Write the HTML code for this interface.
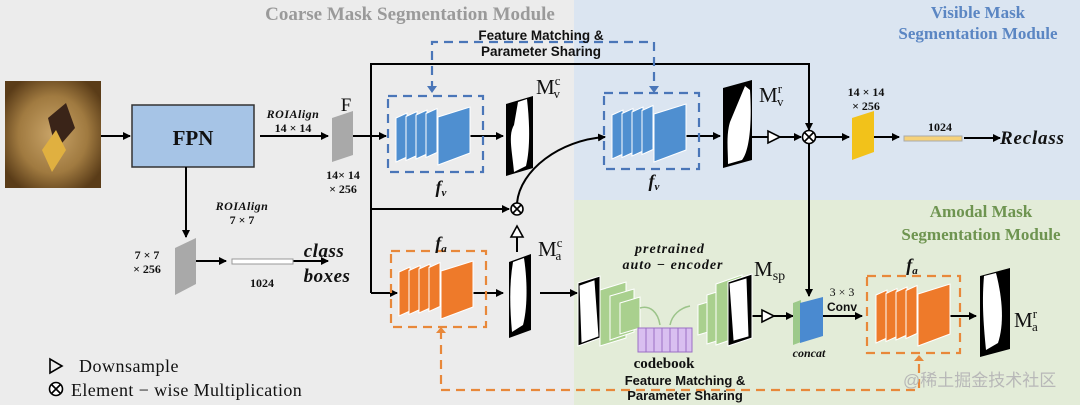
<!DOCTYPE html>
<html><head><meta charset="utf-8"><style>
html,body{margin:0;padding:0;background:#ececec;}
svg{display:block;font-family:"Liberation Serif",serif;}
.b{font-weight:bold}
.s{font-family:"Liberation Sans",sans-serif;font-weight:bold}
</style></head><body>
<svg id="s" width="1080" height="405" viewBox="0 0 1080 405" xmlns="http://www.w3.org/2000/svg">
<defs>
<marker id="a" markerWidth="8" markerHeight="8" refX="7" refY="4" orient="auto" markerUnits="userSpaceOnUse"><path d="M0,0 L8,4 L0,8 z" fill="#000"/></marker>
<radialGradient id="ph" cx="50%" cy="50%" r="60%"><stop offset="0" stop-color="#c9a468"/><stop offset="0.6" stop-color="#a07a40"/><stop offset="1" stop-color="#5a3c18"/></radialGradient>
</defs>
<rect x="574" y="0" width="506" height="200" fill="#dbe5f1"/>
<rect x="574" y="200" width="506" height="205" fill="#e3ecd8"/>

<text x="410" y="20" font-size="19" fill="#9a9a9a" class="b" text-anchor="middle">Coarse Mask Segmentation Module</text>
<text x="978" y="18" font-size="17" fill="#5b86c3" class="b" text-anchor="middle">Visible Mask</text>
<text x="978" y="39" font-size="17" fill="#5b86c3" class="b" text-anchor="middle">Segmentation Module</text>
<text x="981" y="217" font-size="17" fill="#6e9450" class="b" text-anchor="middle">Amodal Mask</text>
<text x="981" y="240" font-size="17" fill="#6e9450" class="b" text-anchor="middle">Segmentation Module</text>

<rect x="5" y="81" width="96" height="107" fill="url(#ph)"/>
<polygon points="48,118 66,103 75,128 56,150" fill="#3a2418"/>
<polygon points="42,150 56,130 66,150 52,172" fill="#e0b040"/>
<rect x="132" y="105" width="122" height="62" fill="#a6c4e6" stroke="#333" stroke-width="1.5"/>
<text x="193" y="145" font-size="21" class="b" text-anchor="middle" fill="#111">FPN</text>
<g stroke="#000" stroke-width="2" fill="none">
<line x1="101" y1="136" x2="130" y2="136" marker-end="url(#a)"/>
<line x1="260" y1="136" x2="328" y2="136" marker-end="url(#a)"/>
<line x1="186" y1="167" x2="186" y2="237" marker-end="url(#a)"/>
<line x1="196" y1="261" x2="226" y2="261" marker-end="url(#a)"/>
<line x1="293" y1="261" x2="328" y2="261" marker-end="url(#a)"/>
<line x1="343" y1="136" x2="386" y2="136" marker-end="url(#a)"/>
<polyline points="371,293 371,64 809,64 809,130"/>
<line x1="809" y1="64" x2="809" y2="130" marker-end="url(#a)"/>
<line x1="809" y1="144" x2="809" y2="296" marker-end="url(#a)"/>
<line x1="371" y1="209" x2="509" y2="209" marker-end="url(#a)"/>
<line x1="371" y1="293" x2="397" y2="293" marker-end="url(#a)"/>
<line x1="468" y1="136" x2="503" y2="136" marker-end="url(#a)"/>
<line x1="468" y1="293" x2="503" y2="293" marker-end="url(#a)"/>
<line x1="517" y1="252" x2="517" y2="237"/>
<path d="M517,203 C520,170 560,140 605,137" marker-end="url(#a)"/>
<line x1="540" y1="293" x2="577" y2="293" marker-end="url(#a)"/>
<line x1="680" y1="136" x2="720" y2="136" marker-end="url(#a)"/>
<line x1="752" y1="137" x2="768" y2="137"/>
<line x1="780" y1="137" x2="801" y2="137" marker-end="url(#a)"/>
<line x1="816" y1="137" x2="849" y2="137" marker-end="url(#a)"/>
<line x1="864" y1="137" x2="899" y2="137" marker-end="url(#a)"/>
<line x1="964" y1="138" x2="1000" y2="138" marker-end="url(#a)"/>
<line x1="752" y1="316" x2="762" y2="316"/>
<line x1="774" y1="316" x2="793" y2="316" marker-end="url(#a)"/>
<line x1="823" y1="316" x2="862" y2="316" marker-end="url(#a)"/>
<line x1="940" y1="316" x2="976" y2="316" marker-end="url(#a)"/>
</g>
<polygon points="332,118 353,111 353,155 332,162" fill="#a9a9a9"/>
<polygon points="175,248 196,238 196,284 175,295" fill="#a9a9a9"/>
<polygon points="852,118 874,111 874,152 852,160" fill="#f2c21a"/>
<rect x="232" y="259" width="61" height="5" fill="#fff" stroke="#999" stroke-width="1"/>
<rect x="904" y="136" width="58" height="5" fill="#f6d27a" stroke="#aaa" stroke-width="1"/>

<g fill="none" stroke-width="2.2" stroke-dasharray="9,6">
<rect x="388" y="96" width="95" height="76" stroke="#4a76b8"/>
<rect x="604" y="93" width="95" height="76" stroke="#4a76b8"/>
<polyline points="432,90 432,42 654,42 654,90" stroke="#4a76b8"/>
<rect x="391" y="251" width="95" height="76" stroke="#e8883a"/>
<rect x="867" y="276" width="93" height="77" stroke="#e8883a"/>
<polyline points="441,330 441,390 919,390 919,360" stroke="#e8883a"/>
</g>
<path d="M427,86 L437,86 L432,93 z M649,86 L659,86 L654,93 z" fill="#4a76b8"/>
<path d="M436,333 L446,333 L441,327 z M914,361 L924,361 L919,355 z" fill="#e8883a"/>

<g id="stacks"></g>

<g>
<polygon points="506,104 533,96 533,168 506,176" fill="#000"/>
<path d="M518,102 L527,99 C530,125 530,150 526,166 L514,172 C512,150 508,135 514,125 z" fill="#fff"/>
<polygon points="509,262 531,254 531,330 509,338" fill="#000"/>
<path d="M513,262 L524,258 C528,285 527,310 523,325 L512,332 C510,310 509,285 513,262 z" fill="#fff"/>
<polygon points="723,88 752,80 752,160 723,168" fill="#000"/>
<path d="M730,122 L745,86 L750,90 C752,120 750,150 742,160 L728,164 C728,150 726,135 730,122 z" fill="#fff"/>
<polygon points="980,276 1010,268 1010,349 980,357" fill="#000"/>
<path d="M984,276 L996,273 C1003,300 1004,325 998,343 L986,350 C983,320 982,300 984,276 z" fill="#fff"/>
</g>

<g stroke="#000" stroke-width="1.6" fill="#fff">
<circle cx="517" cy="209" r="6"/><path d="M513,205 L521,213 M521,205 L513,213"/>
<circle cx="809" cy="137" r="6.5"/><path d="M804.5,132.5 L813.5,141.5 M813.5,132.5 L804.5,141.5"/>
<polygon points="511,237 523,237 517,226"/>
<polygon points="768,131 768,143 780,137"/>
<polygon points="762,310 762,322 774,316"/>
<polygon points="50,359 50,373 62,366" fill="none"/>
<circle cx="56" cy="389" r="6.5"/><path d="M51.5,384.5 L60.5,393.5 M60.5,384.5 L51.5,393.5"/>
</g>

<g fill="#d9bff0" stroke="#9b6fc4" stroke-width="1">
<rect x="638" y="328" width="54" height="24"/>
<path d="M646,328 V352 M654,328 V352 M662,328 V352 M670,328 V352 M678,328 V352 M686,328 V352" fill="none"/>
</g>
<path d="M640,308 C650,305 658,312 660,325 M670,325 C672,315 680,308 690,306" stroke="#9cc48a" stroke-width="1.5" fill="none"/>
<polygon points="793,303 801,300 801,342 793,345" fill="#9cc98a"/>
<polygon points="800,303 823,297 823,336 800,343" fill="#4a8ad0"/>

<g fill="#111">
<text x="293" y="118" font-size="12" class="b" font-style="italic" text-anchor="middle" letter-spacing="0.5">ROIAlign</text>
<text x="293" y="132" font-size="12" class="b" text-anchor="middle">14 × 14</text>
<text x="346" y="111" font-size="19" text-anchor="middle">F</text>
<text x="343" y="179" font-size="12" class="b" text-anchor="middle">14× 14</text>
<text x="343" y="193" font-size="12" class="b" text-anchor="middle">× 256</text>
<text x="242" y="210" font-size="12" class="b" font-style="italic" text-anchor="middle" letter-spacing="0.5">ROIAlign</text>
<text x="242" y="224" font-size="12" class="b" text-anchor="middle">7 × 7</text>
<text x="147" y="259" font-size="12" class="b" text-anchor="middle">7 × 7</text>
<text x="147" y="273" font-size="12" class="b" text-anchor="middle">× 256</text>
<text x="262" y="287" font-size="12" class="b" text-anchor="middle">1024</text>
<text x="324" y="257" font-size="19" class="b" font-style="italic" text-anchor="middle" letter-spacing="0.5">class</text>
<text x="327" y="282" font-size="19" class="b" font-style="italic" text-anchor="middle" letter-spacing="0.5">boxes</text>
<text x="541" y="40" font-size="13.5" class="s" text-anchor="middle">Feature Matching &amp;</text>
<text x="541" y="56" font-size="13.5" class="s" text-anchor="middle">Parameter Sharing</text>
<text x="441" y="193" font-size="18" class="b" font-style="italic" text-anchor="middle">f<tspan font-size="11" dy="3">v</tspan></text>
<text x="654" y="187" font-size="18" class="b" font-style="italic" text-anchor="middle">f<tspan font-size="11" dy="3">v</tspan></text>
<text x="441" y="249" font-size="18" class="b" font-style="italic" text-anchor="middle">f<tspan font-size="11" dy="3">a</tspan></text>
<text x="912" y="271" font-size="18" class="b" font-style="italic" text-anchor="middle">f<tspan font-size="11" dy="3">a</tspan></text>
<text x="536" y="94" font-size="21">M<tspan font-size="13" dy="-9">c</tspan><tspan font-size="13" dx="-7" dy="13">v</tspan></text>
<text x="538" y="256" font-size="21">M<tspan font-size="13" dy="-9">c</tspan><tspan font-size="13" dx="-7" dy="13">a</tspan></text>
<text x="759" y="102" font-size="21">M<tspan font-size="13" dy="-9">r</tspan><tspan font-size="13" dx="-5" dy="13">v</tspan></text>
<text x="1014" y="327" font-size="21">M<tspan font-size="13" dy="-9">r</tspan><tspan font-size="13" dx="-5" dy="13">a</tspan></text>
<text x="754" y="276" font-size="21">M<tspan font-size="14" dy="4">sp</tspan></text>
<text x="670" y="253" font-size="14" class="b" font-style="italic" text-anchor="middle" letter-spacing="1">pretrained</text>
<text x="673" y="269" font-size="14" class="b" font-style="italic" text-anchor="middle" letter-spacing="1">auto − encoder</text>
<text x="664" y="368" font-size="15" class="b" text-anchor="middle">codebook</text>
<text x="685" y="385" font-size="13" class="s" text-anchor="middle">Feature Matching &amp;</text>
<text x="685" y="400" font-size="13" class="s" text-anchor="middle">Parameter Sharing</text>
<text x="809" y="357" font-size="12" class="b" font-style="italic" text-anchor="middle">concat</text>
<text x="842" y="296" font-size="12" text-anchor="middle">3 × 3</text>
<text x="842" y="311" font-size="12" class="s" text-anchor="middle">Conv</text>
<text x="866" y="96" font-size="12" class="b" text-anchor="middle">14 × 14</text>
<text x="866" y="110" font-size="12" class="b" text-anchor="middle">× 256</text>
<text x="940" y="131" font-size="12" class="b" text-anchor="middle">1024</text>
<text x="1000" y="144" font-size="19" class="b" font-style="italic" letter-spacing="0.8">Reclass</text>
<text x="79" y="372" font-size="18" letter-spacing="0.5">Downsample</text>
<text x="71" y="396" font-size="18" letter-spacing="0.4">Element − wise Multiplication</text>
</g>
<text x="903" y="386" font-size="17" fill="#b8b8b8" font-family="'Liberation Sans','Noto Sans CJK SC',sans-serif">@稀土掘金技术社区</text>
</svg>
<script>
(function(){
var g=document.getElementById('stacks'),ns='http://www.w3.org/2000/svg';
function poly(pts,fill){var p=document.createElementNS(ns,'polygon');p.setAttribute('points',pts);p.setAttribute('fill',fill);p.setAttribute('stroke','#fff');p.setAttribute('stroke-width','1');g.appendChild(p);}
function stack(x0,yc,h,fill){
 for(var i=0;i<4;i++){var x=x0+i*10,w=11,t=yc-h/2+4-i*1.5,sk=5;
  poly(x+','+(t+sk)+' '+(x+w)+','+t+' '+(x+w)+','+(t+h-10)+' '+x+','+(t+h-10+sk),fill);}
 var bx=x0+42,bw=32;
 poly(bx+','+(yc-h/2+8)+' '+(bx+bw)+','+(yc-h/2-2)+' '+(bx+bw)+','+(yc+h/2-10)+' '+bx+','+(yc+h/2+2),fill);
}
stack(396,136,54,'#4f8fd0');
stack(612,133,54,'#4f8fd0');
stack(399,290,54,'#ee7a2a');
stack(876,315,58,'#ee7a2a');
var gr='#a9d08e';
poly('578,283 600,276 600,338 578,346','#000');
poly('580,286 594,281 598,336 582,342','#fff');
poly('600,290 626,282 626,338 600,346',gr);
poly('610,296 634,289 634,332 610,340',gr);
poly('620,303 640,297 640,328 620,334',gr);
poly('698,305 708,302 708,332 698,335',gr);
poly('707,295 720,291 720,340 707,344',gr);
poly('716,284 742,275 742,336 716,345',gr);
poly('728,282 752,274 752,338 728,346','#000');
poly('730,284 746,279 748,336 734,340','#fff');
})();
</script>
</body></html>
